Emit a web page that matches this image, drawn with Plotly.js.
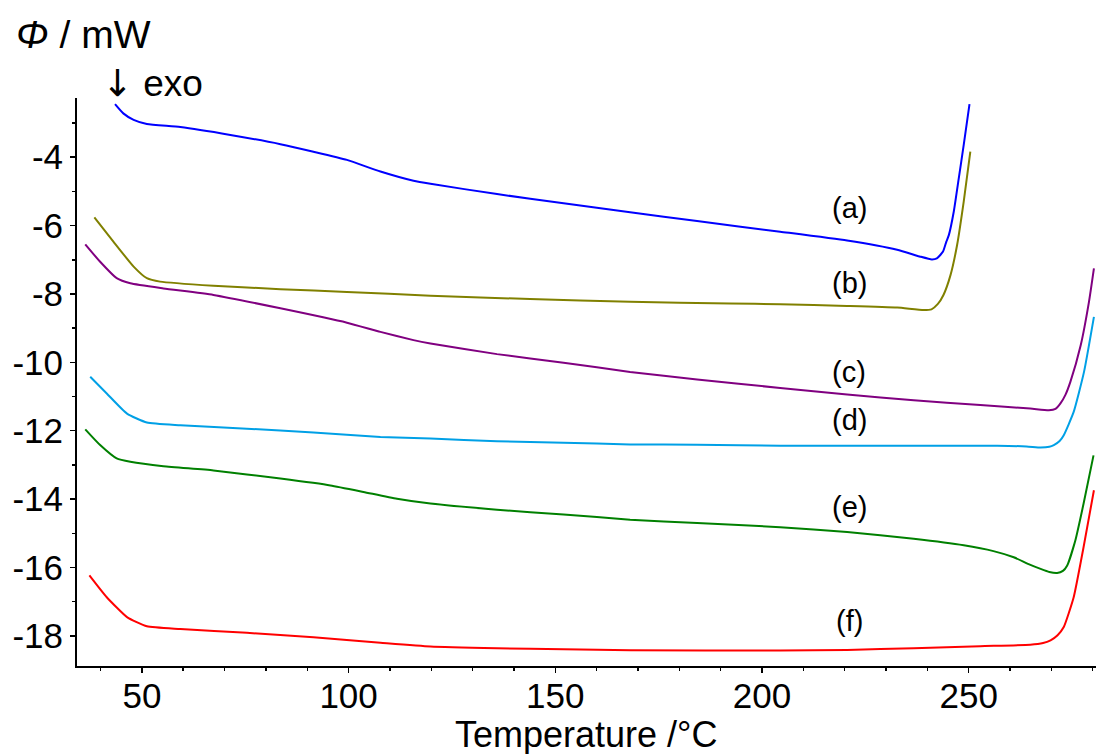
<!DOCTYPE html>
<html>
<head>
<meta charset="utf-8">
<script src="https://cdn.plot.ly/plotly-3.0.1.min.js"></script>
<style>html,body{margin:0;padding:0;background:#fff;}#chart{width:1096px;height:754px;}</style>
</head>
<body>
<div id="chart"></div>
<script>
// Temperature (°C) and heat flow (mW)
const xA = [43.5, 45.5, 48.0, 51.2, 59.3, 71.4, 83.5, 91.5, 99.6, 107.7, 115.7, 119.8, 135.9, 152.0, 168.1, 184.3, 204.4, 220.6, 232.7, 238.3, 241.1, 242.3, 243.8, 244.6, 245.2, 246.4, 247.6, 248.8, 250.2];
const yA = [-2.45, -2.72, -2.91, -3.03, -3.12, -3.35, -3.62, -3.84, -4.08, -4.42, -4.69, -4.78, -5.08, -5.35, -5.61, -5.87, -6.18, -6.44, -6.71, -6.91, -6.99, -6.96, -6.76, -6.47, -6.28, -5.59, -4.62, -3.64, -2.45];

const xB = [38.5, 43.1, 48.0, 51.2, 54.4, 67.3, 83.5, 99.6, 119.8, 143.9, 168.1, 192.3, 204.4, 220.6, 232.7, 239.1, 241.0, 242.5, 243.9, 245.6, 247.2, 248.8, 250.4];
const yB = [-5.76, -6.47, -7.20, -7.54, -7.64, -7.76, -7.86, -7.94, -8.05, -8.15, -8.23, -8.28, -8.30, -8.35, -8.40, -8.47, -8.45, -8.30, -8.03, -7.45, -6.57, -5.30, -3.84];

const xC = [36.3, 39.9, 43.9, 47.2, 55.2, 67.3, 83.5, 99.6, 107.7, 115.7, 119.8, 135.9, 152.0, 168.1, 184.3, 204.4, 220.6, 236.7, 252.8, 264.9, 269.4, 271.0, 272.2, 273.4, 274.6, 277.1, 279.1, 280.3];
const yC = [-6.55, -7.06, -7.54, -7.69, -7.84, -8.03, -8.42, -8.84, -9.11, -9.35, -9.45, -9.76, -10.01, -10.28, -10.50, -10.75, -10.94, -11.11, -11.25, -11.35, -11.40, -11.36, -11.20, -10.95, -10.57, -9.50, -8.23, -7.25];

const xD = [37.5, 41.5, 46.4, 51.2, 59.3, 75.4, 91.5, 107.7, 119.8, 135.9, 152.0, 168.1, 184.3, 204.4, 236.7, 256.9, 264.0, 267.4, 269.5, 270.6, 272.0, 273.0, 275.4, 277.9, 280.3];
const yD = [-10.42, -10.91, -11.50, -11.76, -11.84, -11.94, -12.05, -12.18, -12.23, -12.31, -12.35, -12.40, -12.41, -12.44, -12.44, -12.44, -12.46, -12.49, -12.47, -12.42, -12.30, -12.13, -11.45, -10.28, -8.67];

const xE = [36.3, 39.9, 43.9, 47.2, 55.2, 67.3, 83.5, 95.6, 103.6, 111.7, 119.8, 135.9, 152.0, 168.1, 184.3, 204.4, 220.6, 236.7, 248.8, 256.0, 260.9, 264.5, 267.4, 269.5, 271.4, 272.8, 273.8, 275.8, 277.8, 280.2];
const yE = [-11.96, -12.42, -12.81, -12.91, -13.04, -13.16, -13.40, -13.60, -13.79, -13.99, -14.13, -14.31, -14.45, -14.60, -14.70, -14.82, -14.96, -15.16, -15.35, -15.52, -15.70, -15.90, -16.04, -16.13, -16.16, -16.10, -15.95, -15.21, -14.13, -12.72];

const xF = [37.3, 41.5, 46.4, 51.2, 59.3, 75.4, 91.5, 107.7, 119.8, 135.9, 152.0, 168.1, 204.4, 220.6, 236.7, 252.8, 264.9, 268.0, 269.8, 271.5, 273.0, 275.4, 277.8, 280.3];
const yF = [-16.23, -16.87, -17.45, -17.72, -17.80, -17.91, -18.04, -18.20, -18.31, -18.36, -18.39, -18.42, -18.43, -18.41, -18.36, -18.30, -18.26, -18.21, -18.13, -17.98, -17.74, -16.87, -15.40, -13.74];

const seriesNames = ["(a)", "(b)", "(c)", "(d)", "(e)", "(f)"];
const seriesColors = ["#0000ff", "#808000", "#800080", "#00a0e6", "#008000", "#ff0000"];
// label anchor positions (data units)
const labelX = [221.1, 221.1, 221.1, 221.1, 221.1, 221.1];
const labelY = [-5.49, -7.69, -10.28, -11.69, -14.23, -17.55];

// axis ticks
const xTickVals = [50, 100, 150, 200, 250];
const yTickVals = [-18, -16, -14, -12, -10, -8, -6, -4];
const yTickText = ["-18", "-16", "-14", "-12", "-10", "-8", "-6", "-4"];

const xs = [xA, xB, xC, xD, xE, xF];
const ys = [yA, yB, yC, yD, yE, yF];

const font = "Arial, 'Liberation Sans', sans-serif";

const traces = xs.map((x, i) => ({
  x: x, y: ys[i], type: 'scatter', mode: 'lines', name: seriesNames[i],
  line: {color: seriesColors[i], width: 2, shape: 'spline', smoothing: 0.5},
  hoverinfo: 'skip'
}));

const annotations = seriesNames.map((t, i) => ({
  x: labelX[i], y: labelY[i], xref: 'x', yref: 'y', text: t, showarrow: false,
  font: {family: font, size: 29, color: '#000'}, xanchor: 'center', yanchor: 'middle'
}));

annotations.push({
  xref: 'paper', yref: 'paper', x: -0.062, y: 1.112, xanchor: 'left', yanchor: 'middle',
  text: '<i>Φ</i> / mW', showarrow: false, font: {family: font, size: 39, color: '#000'}
});
annotations.push({
  xref: 'paper', yref: 'paper', x: 0.023, y: 1.026, xanchor: 'left', yanchor: 'middle',
  text: "<span style=\"font-family:'DejaVu Sans'\">↓</span> exo", showarrow: false,
  font: {family: font, size: 37, color: '#000'}
});
annotations.push({
  xref: 'paper', yref: 'paper', x: 0.500, y: -0.121, xanchor: 'center', yanchor: 'middle',
  text: 'Temperature /°C', showarrow: false, font: {family: font, size: 36, color: '#000'}
});

const layout = {
  width: 1096, height: 754,
  margin: {l: 77, r: 0, t: 98, b: 88, pad: 0},
  paper_bgcolor: '#fff', plot_bgcolor: '#fff',
  showlegend: false,
  font: {family: font, color: '#000'},
  xaxis: {
    range: [34.3, 280.8], showgrid: false, zeroline: false,
    showline: true, linecolor: '#000', linewidth: 2,
    ticks: 'outside', ticklen: 5, tickwidth: 1.5, tickcolor: '#000',
    tickvals: xTickVals, ticklabelstandoff: -7,
    tickfont: {family: font, size: 35, color: '#000'},
    minor: {dtick: 10, tick0: 0, ticks: 'outside', ticklen: 3, tickwidth: 1.5, tickcolor: '#000', showgrid: false}
  },
  yaxis: {
    range: [-18.88, -2.27], showgrid: false, zeroline: false,
    showline: true, linecolor: '#000', linewidth: 2,
    ticks: 'outside', ticklen: 5, tickwidth: 1.5, tickcolor: '#000',
    tickvals: yTickVals, ticktext: yTickText,
    tickfont: {family: font, size: 35, color: '#000'},
    minor: {dtick: 1, tick0: 0, ticks: 'outside', ticklen: 3, tickwidth: 1.5, tickcolor: '#000', showgrid: false}
  },
  annotations: annotations
};

Plotly.newPlot('chart', traces, layout, {displayModeBar: false, staticPlot: true});
</script>
</body>
</html>
